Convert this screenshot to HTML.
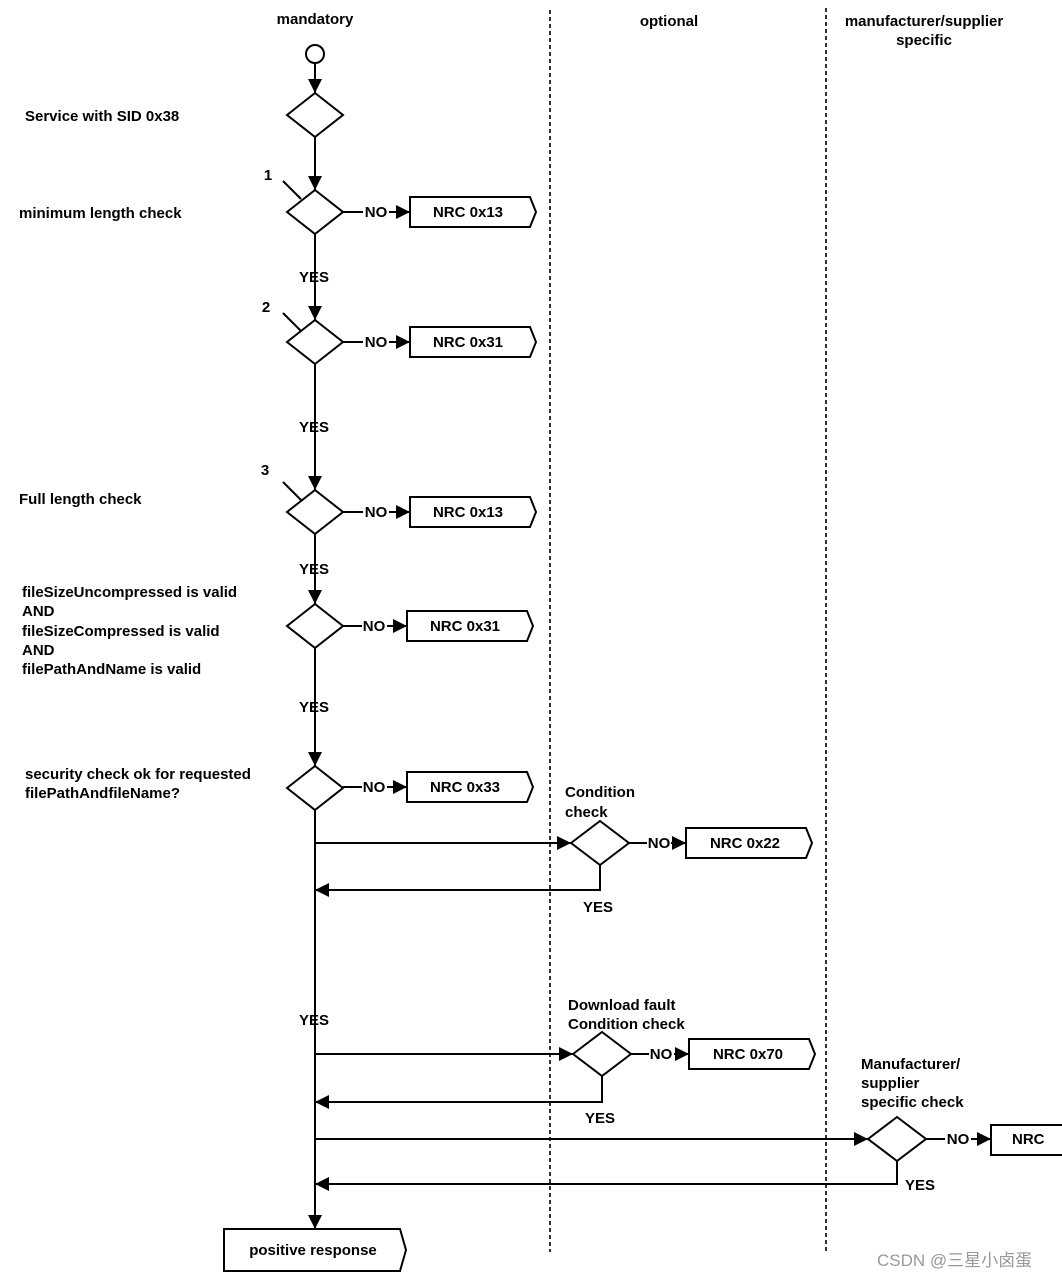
<!DOCTYPE html>
<html><head><meta charset="utf-8"><style>
html,body{margin:0;padding:0;background:#fff;}
svg{display:block;}
text{font-family:"Liberation Sans",Arial,sans-serif;font-weight:bold;font-size:15px;fill:#000;}
</style></head><body>
<svg width="1062" height="1279" viewBox="0 0 1062 1279" xmlns="http://www.w3.org/2000/svg">
<defs>
<marker id="a" viewBox="0 0 10 10" refX="10" refY="5" markerWidth="14" markerHeight="14" markerUnits="userSpaceOnUse" orient="auto">
<path d="M0,0 L10,5 L0,10 z" fill="#000"/></marker>
</defs>
<g stroke="#000" stroke-width="1.6" stroke-dasharray="4,3">
<line x1="550" y1="10" x2="550" y2="1252"/>
<line x1="826" y1="8" x2="826" y2="1252"/>
</g>
<text x="315" y="24" text-anchor="middle">mandatory</text>
<text x="669" y="26" text-anchor="middle">optional</text>
<text x="924" y="26" text-anchor="middle">manufacturer/supplier</text>
<text x="924" y="45" text-anchor="middle">specific</text>

<g stroke="#000" stroke-width="2" fill="none">
<circle cx="315" cy="54" r="9" fill="#fff"/>
<line x1="315" y1="63" x2="315" y2="93" marker-end="url(#a)"/>
<line x1="315" y1="137" x2="315" y2="190" marker-end="url(#a)"/>
<line x1="315" y1="234" x2="315" y2="320" marker-end="url(#a)"/>
<line x1="315" y1="364" x2="315" y2="490" marker-end="url(#a)"/>
<line x1="315" y1="534" x2="315" y2="604" marker-end="url(#a)"/>
<line x1="315" y1="648" x2="315" y2="766" marker-end="url(#a)"/>
<line x1="315" y1="810" x2="315" y2="1229" marker-end="url(#a)"/>
<!-- diamonds -->
<polygon points="287,115 315,93 343,115 315,137" fill="#fff"/>
<polygon points="287,212 315,190 343,212 315,234" fill="#fff"/>
<polygon points="287,342 315,320 343,342 315,364" fill="#fff"/>
<polygon points="287,512 315,490 343,512 315,534" fill="#fff"/>
<polygon points="287,626 315,604 343,626 315,648" fill="#fff"/>
<polygon points="287,788 315,766 343,788 315,810" fill="#fff"/>
<polygon points="571,843 600,821 629,843 600,865" fill="#fff"/>
<polygon points="573,1054 602,1032 631,1054 602,1076" fill="#fff"/>
<polygon points="868,1139 897,1117 926,1139 897,1161" fill="#fff"/>
<!-- ticks -->
<line x1="283" y1="181" x2="301" y2="199"/>
<line x1="283" y1="313" x2="301" y2="331"/>
<line x1="283" y1="482" x2="301" y2="500"/>
<!-- NO connectors -->
<line x1="343" y1="212" x2="363" y2="212"/><line x1="389" y1="212" x2="410" y2="212" marker-end="url(#a)"/>
<line x1="343" y1="342" x2="363" y2="342"/><line x1="389" y1="342" x2="410" y2="342" marker-end="url(#a)"/>
<line x1="343" y1="512" x2="363" y2="512"/><line x1="389" y1="512" x2="410" y2="512" marker-end="url(#a)"/>
<line x1="343" y1="626" x2="362" y2="626"/><line x1="387" y1="626" x2="407" y2="626" marker-end="url(#a)"/>
<line x1="343" y1="787" x2="362" y2="787"/><line x1="387" y1="787" x2="407" y2="787" marker-end="url(#a)"/>
<line x1="629" y1="843" x2="647" y2="843"/><line x1="671" y1="843" x2="686" y2="843" marker-end="url(#a)"/>
<line x1="631" y1="1054" x2="649" y2="1054"/><line x1="674" y1="1054" x2="689" y2="1054" marker-end="url(#a)"/>
<line x1="926" y1="1139" x2="945" y2="1139"/><line x1="971" y1="1139" x2="991" y2="1139" marker-end="url(#a)"/>
<!-- branches -->
<line x1="315" y1="843" x2="571" y2="843" marker-end="url(#a)"/>
<polyline points="600,865 600,890 315,890" marker-end="url(#a)"/>
<line x1="315" y1="1054" x2="573" y2="1054" marker-end="url(#a)"/>
<polyline points="602,1076 602,1102 315,1102" marker-end="url(#a)"/>
<line x1="315" y1="1139" x2="868" y2="1139" marker-end="url(#a)"/>
<polyline points="897,1161 897,1184 315,1184" marker-end="url(#a)"/>
<!-- boxes -->
<polygon points="410,197 530,197 536,212 530,227 410,227" fill="#fff"/>
<polygon points="410,327 530,327 536,342 530,357 410,357" fill="#fff"/>
<polygon points="410,497 530,497 536,512 530,527 410,527" fill="#fff"/>
<polygon points="407,611 527,611 533,626 527,641 407,641" fill="#fff"/>
<polygon points="407,772 527,772 533,787 527,802 407,802" fill="#fff"/>
<polygon points="686,828 806,828 812,843 806,858 686,858" fill="#fff"/>
<polygon points="689,1039 809,1039 815,1054 809,1069 689,1069" fill="#fff"/>
<polyline points="1070,1125 991,1125 991,1155 1070,1155" fill="#fff"/>
<polygon points="224,1229 400,1229 406,1250 400,1271 224,1271" fill="#fff"/>
</g>

<text x="268" y="180" text-anchor="middle" font-size="17">1</text>
<text x="266" y="312" text-anchor="middle" font-size="17">2</text>
<text x="265" y="475" text-anchor="middle" font-size="17">3</text>

<text x="25" y="121">Service with SID 0x38</text>
<text x="19" y="218">minimum length check</text>
<text x="19" y="504">Full length  check</text>
<text x="22" y="597">fileSizeUncompressed is valid</text>
<text x="22" y="616">AND</text>
<text x="22" y="636">fileSizeCompressed is valid</text>
<text x="22" y="655">AND</text>
<text x="22" y="674">filePathAndName is valid</text>
<text x="25" y="779">security check ok for requested</text>
<text x="25" y="798">filePathAndfileName?</text>
<text x="565" y="797">Condition</text>
<text x="565" y="817">check</text>
<text x="568" y="1010">Download fault</text>
<text x="568" y="1029">Condition check</text>
<text x="861" y="1069">Manufacturer/</text>
<text x="861" y="1088">supplier</text>
<text x="861" y="1107">specific check</text>

<g text-anchor="middle">
<text x="376" y="217">NO</text>
<text x="376" y="347">NO</text>
<text x="376" y="517">NO</text>
<text x="374" y="631">NO</text>
<text x="374" y="792">NO</text>
<text x="659" y="848">NO</text>
<text x="661" y="1059">NO</text>
<text x="958" y="1144">NO</text>
<text x="314" y="282">YES</text>
<text x="314" y="432">YES</text>
<text x="314" y="574">YES</text>
<text x="314" y="712">YES</text>
<text x="314" y="1025">YES</text>
<text x="598" y="912">YES</text>
<text x="600" y="1123">YES</text>
<text x="920" y="1190">YES</text>
<text x="468" y="217">NRC 0x13</text>
<text x="468" y="347">NRC 0x31</text>
<text x="468" y="517">NRC 0x13</text>
<text x="465" y="631">NRC 0x31</text>
<text x="465" y="792">NRC 0x33</text>
<text x="745" y="848">NRC 0x22</text>
<text x="748" y="1059">NRC 0x70</text>
<text x="313" y="1255">positive response</text>
</g>
<text x="1012" y="1144">NRC</text>
<text x="877" y="1266" style="font-weight:normal;fill:#999;font-size:17px;font-family:'Liberation Sans','Noto Sans CJK SC',sans-serif">CSDN @三星小卤蛋</text>
</svg>
</body></html>
